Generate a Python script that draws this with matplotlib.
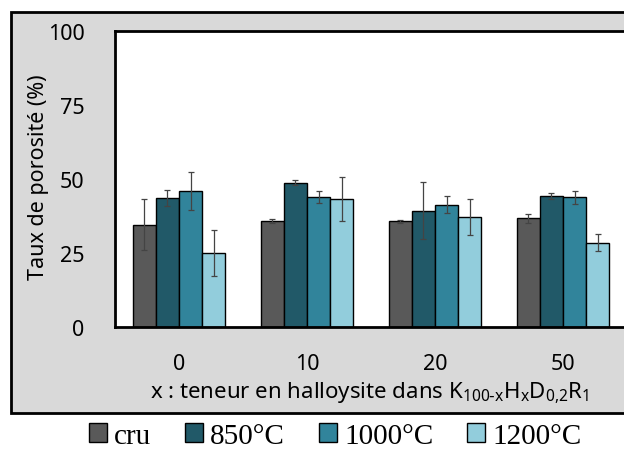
import matplotlib
matplotlib.use("Agg")
import matplotlib.pyplot as plt
from matplotlib.patches import Rectangle
import numpy as np

categories = ["0", "10", "20", "50"]
series = ["cru", "850°C", "1000°C", "1200°C"]
values = {
    "cru":    [34.6, 35.8, 35.7, 36.7],
    "850°C":  [43.6, 48.8, 39.3, 44.3],
    "1000°C": [45.9, 43.8, 41.3, 43.8],
    "1200°C": [25.0, 43.2, 37.2, 28.5],
}
errors = {
    "cru":    [8.6, 0.6, 0.4, 1.5],
    "850°C":  [2.8, 0.8, 9.7, 1.0],
    "1000°C": [6.3, 2.0, 2.8, 2.2],
    "1200°C": [7.8, 7.4, 6.0, 2.9],
}
colors = ["#595959", "#215968", "#31849B", "#92CDDC"]
yticks = [0, 25, 50, 75, 100]

plt.rcParams['font.family'] = ['Noto Sans', 'DejaVu Sans']
plt.rcParams['mathtext.default'] = 'regular'

W, H = 624, 452
fig = plt.figure(figsize=(W/100, H/100), dpi=100)
fig.patch.set_facecolor('white')

# outer grey frame
fig.patches.append(Rectangle((11/W, 1-414/H), (700-11)/W, (414-13)/H,
                             transform=fig.transFigure, facecolor='#D9D9D9',
                             edgecolor='black', linewidth=2, zorder=-10))

ax = fig.add_axes([115/W, 1-328/H, (627-115)/W, (328-32)/H])
ax.set_facecolor('white')
for s in ax.spines.values():
    s.set_linewidth(2)
    s.set_color('black')

x = np.arange(len(categories))
bw = 0.18
for i, (name, c) in enumerate(zip(series, colors)):
    ax.bar(x + (i - 1.5) * bw, values[name], bw, color=c, edgecolor='black',
           linewidth=1, label=name, zorder=2,
           yerr=errors[name], error_kw=dict(ecolor='#444444', elinewidth=0.9,
                                            capsize=2.5, capthick=0.9, zorder=3))

ax.set_xlim(-0.5, 3.5)
ax.set_ylim(0, 100)
ax.set_yticks(yticks)
ax.set_xticks(x)
ax.set_xticklabels(categories)
ax.tick_params(axis='both', length=0, labelsize=15.5)
ax.tick_params(axis='y', pad=22)
ax.tick_params(axis='x', pad=19)

ax.set_ylabel("Taux de porosité (%)", fontsize=15.5)
ax.yaxis.set_label_coords((39-115)/(627-115), (328-177)/296)
ax.yaxis.label.set_va('center')
ax.set_xlabel(r"x : teneur en halloysite dans K$_{100\text{-}x}$H$_x$D$_{0{,}2}$R$_1$", fontsize=16)
ax.xaxis.set_label_coords((370-115)/(627-115), (328-393)/296)
ax.xaxis.label.set_va('center')

handles, labels = ax.get_legend_handles_labels()
leg = fig.legend(handles, labels, loc='center', bbox_to_anchor=(335/W, 1-437/H),
                 ncol=4, frameon=False,
                 prop={'family': 'Liberation Serif', 'size': 21},
                 handlelength=0.62, handleheight=0.62, handletextpad=0.25,
                 columnspacing=1.15, borderaxespad=0)

fig.savefig("out.png", dpi=100, facecolor='white')
